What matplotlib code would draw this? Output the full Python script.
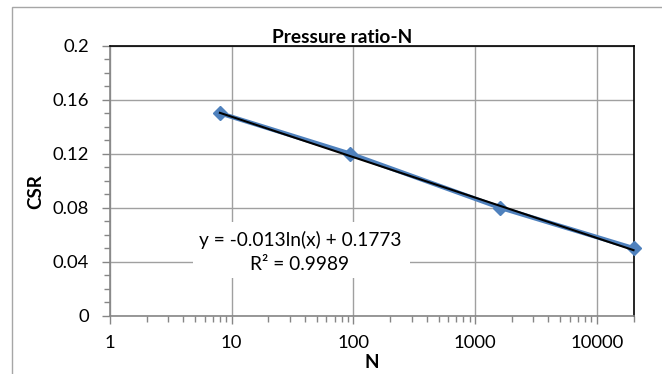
import numpy as np
import matplotlib
matplotlib.use("Agg")
import matplotlib.pyplot as plt
from matplotlib.patches import Rectangle
from matplotlib.ticker import LogLocator, NullFormatter, MultipleLocator

plt.rcParams['font.family'] = ['Lato', 'DejaVu Sans']

# data
n_values = [8, 94, 1600, 20000]
csr_values = [0.15, 0.12, 0.08, 0.05]
trend_a = -0.013
trend_b = 0.1773
equation_text = "y = -0.013ln(x) + 0.1773"
r2_text = "R\u00b2 = 0.9989"
x_ticks = [1, 10, 100, 1000, 10000]
x_tick_labels = ["1", "10", "100", "1000", "10000"]
y_ticks = [0, 0.04, 0.08, 0.12, 0.16, 0.2]
y_tick_labels = ["0", "0.04", "0.08", "0.12", "0.16", "0.2"]

W, H = 662, 374
fig = plt.figure(figsize=(W / 100, H / 100), dpi=100)

# outer chart frame
fig.patches.append(Rectangle((12 / W, -0.1), 1.2, 1 - 6.7 / H + 0.1,
                             transform=fig.transFigure, fill=False,
                             edgecolor='#a6a6a6', linewidth=1.0))

L, R, T, B = 110, 633.5, 45.7, 315.7
ax = fig.add_axes([L / W, 1 - B / H, (R - L) / W, (B - T) / H])
ax.set_xscale('log')
ax.set_xlim(1, 20000)
ax.set_ylim(0, 0.2)
ax.set_axisbelow(True)

ax.set_xticks(x_ticks)
ax.set_xticklabels(x_tick_labels)
ax.xaxis.set_minor_locator(LogLocator(base=10, subs=np.arange(2, 10), numticks=20))
ax.xaxis.set_minor_formatter(NullFormatter())
ax.set_yticks(y_ticks)
ax.set_yticklabels(y_tick_labels)
ax.yaxis.set_minor_locator(MultipleLocator(0.01))

ax.grid(True, which='major', color='#a0a0a0', linewidth=1.0)
ax.tick_params(which='both', direction='out', color='#868686', labelsize=13.3,
               labelcolor='black')
ax.tick_params(which='major', length=6, width=1)
ax.tick_params(which='minor', length=4.5, width=1)
ax.tick_params(axis='x', pad=8)
ax.tick_params(axis='y', pad=9)

for s in ['left', 'bottom']:
    ax.spines[s].set_color('#868686')
    ax.spines[s].set_linewidth(1.2)
for s in ['top', 'right']:
    ax.spines[s].set_color('black')
    ax.spines[s].set_linewidth(1.2)

# series
ax.plot(n_values, csr_values, color='#4f81bd', linewidth=3.2, marker='D',
        markersize=7.5, markeredgecolor='#4f81bd', zorder=3, clip_on=False)

# logarithmic trendline from the displayed equation
xt = np.geomspace(n_values[0], n_values[-1], 100)
ax.plot(xt, trend_a * np.log(xt) + trend_b, color='black', linewidth=1.5,
        zorder=4, clip_on=False)

# equation box
x0 = (193 - L) / (R - L)
x1 = (410 - L) / (R - L)
yt = (B - 222) / (B - T)
yb = (B - 278) / (B - T)
ax.add_patch(Rectangle((x0, yb), x1 - x0, yt - yb, transform=ax.transAxes,
                       facecolor='white', edgecolor='none', zorder=1))
xc = (300 - L) / (R - L)
ax.text(xc, (B - 246) / (B - T), equation_text, transform=ax.transAxes,
        ha='center', va='baseline', fontsize=13.8, zorder=5)
ax.text(xc, (B - 270) / (B - T), r2_text, transform=ax.transAxes,
        ha='center', va='baseline', fontsize=13.8, zorder=5)

# title & labels
fig.text(342.5 / W, 1 - 42.7 / H, "Pressure ratio-N", ha='center', va='baseline',
         fontsize=13.8, fontweight='bold')
fig.text(36 / W, 1 - 192 / H, "CSR", ha='center', va='center', rotation=90,
         fontsize=13.5, fontweight='bold')
fig.text(371.5 / W, 1 - 362 / H, "N", ha='center', va='center',
         fontsize=13.5, fontweight='bold')

fig.savefig("out.png", dpi=100)
